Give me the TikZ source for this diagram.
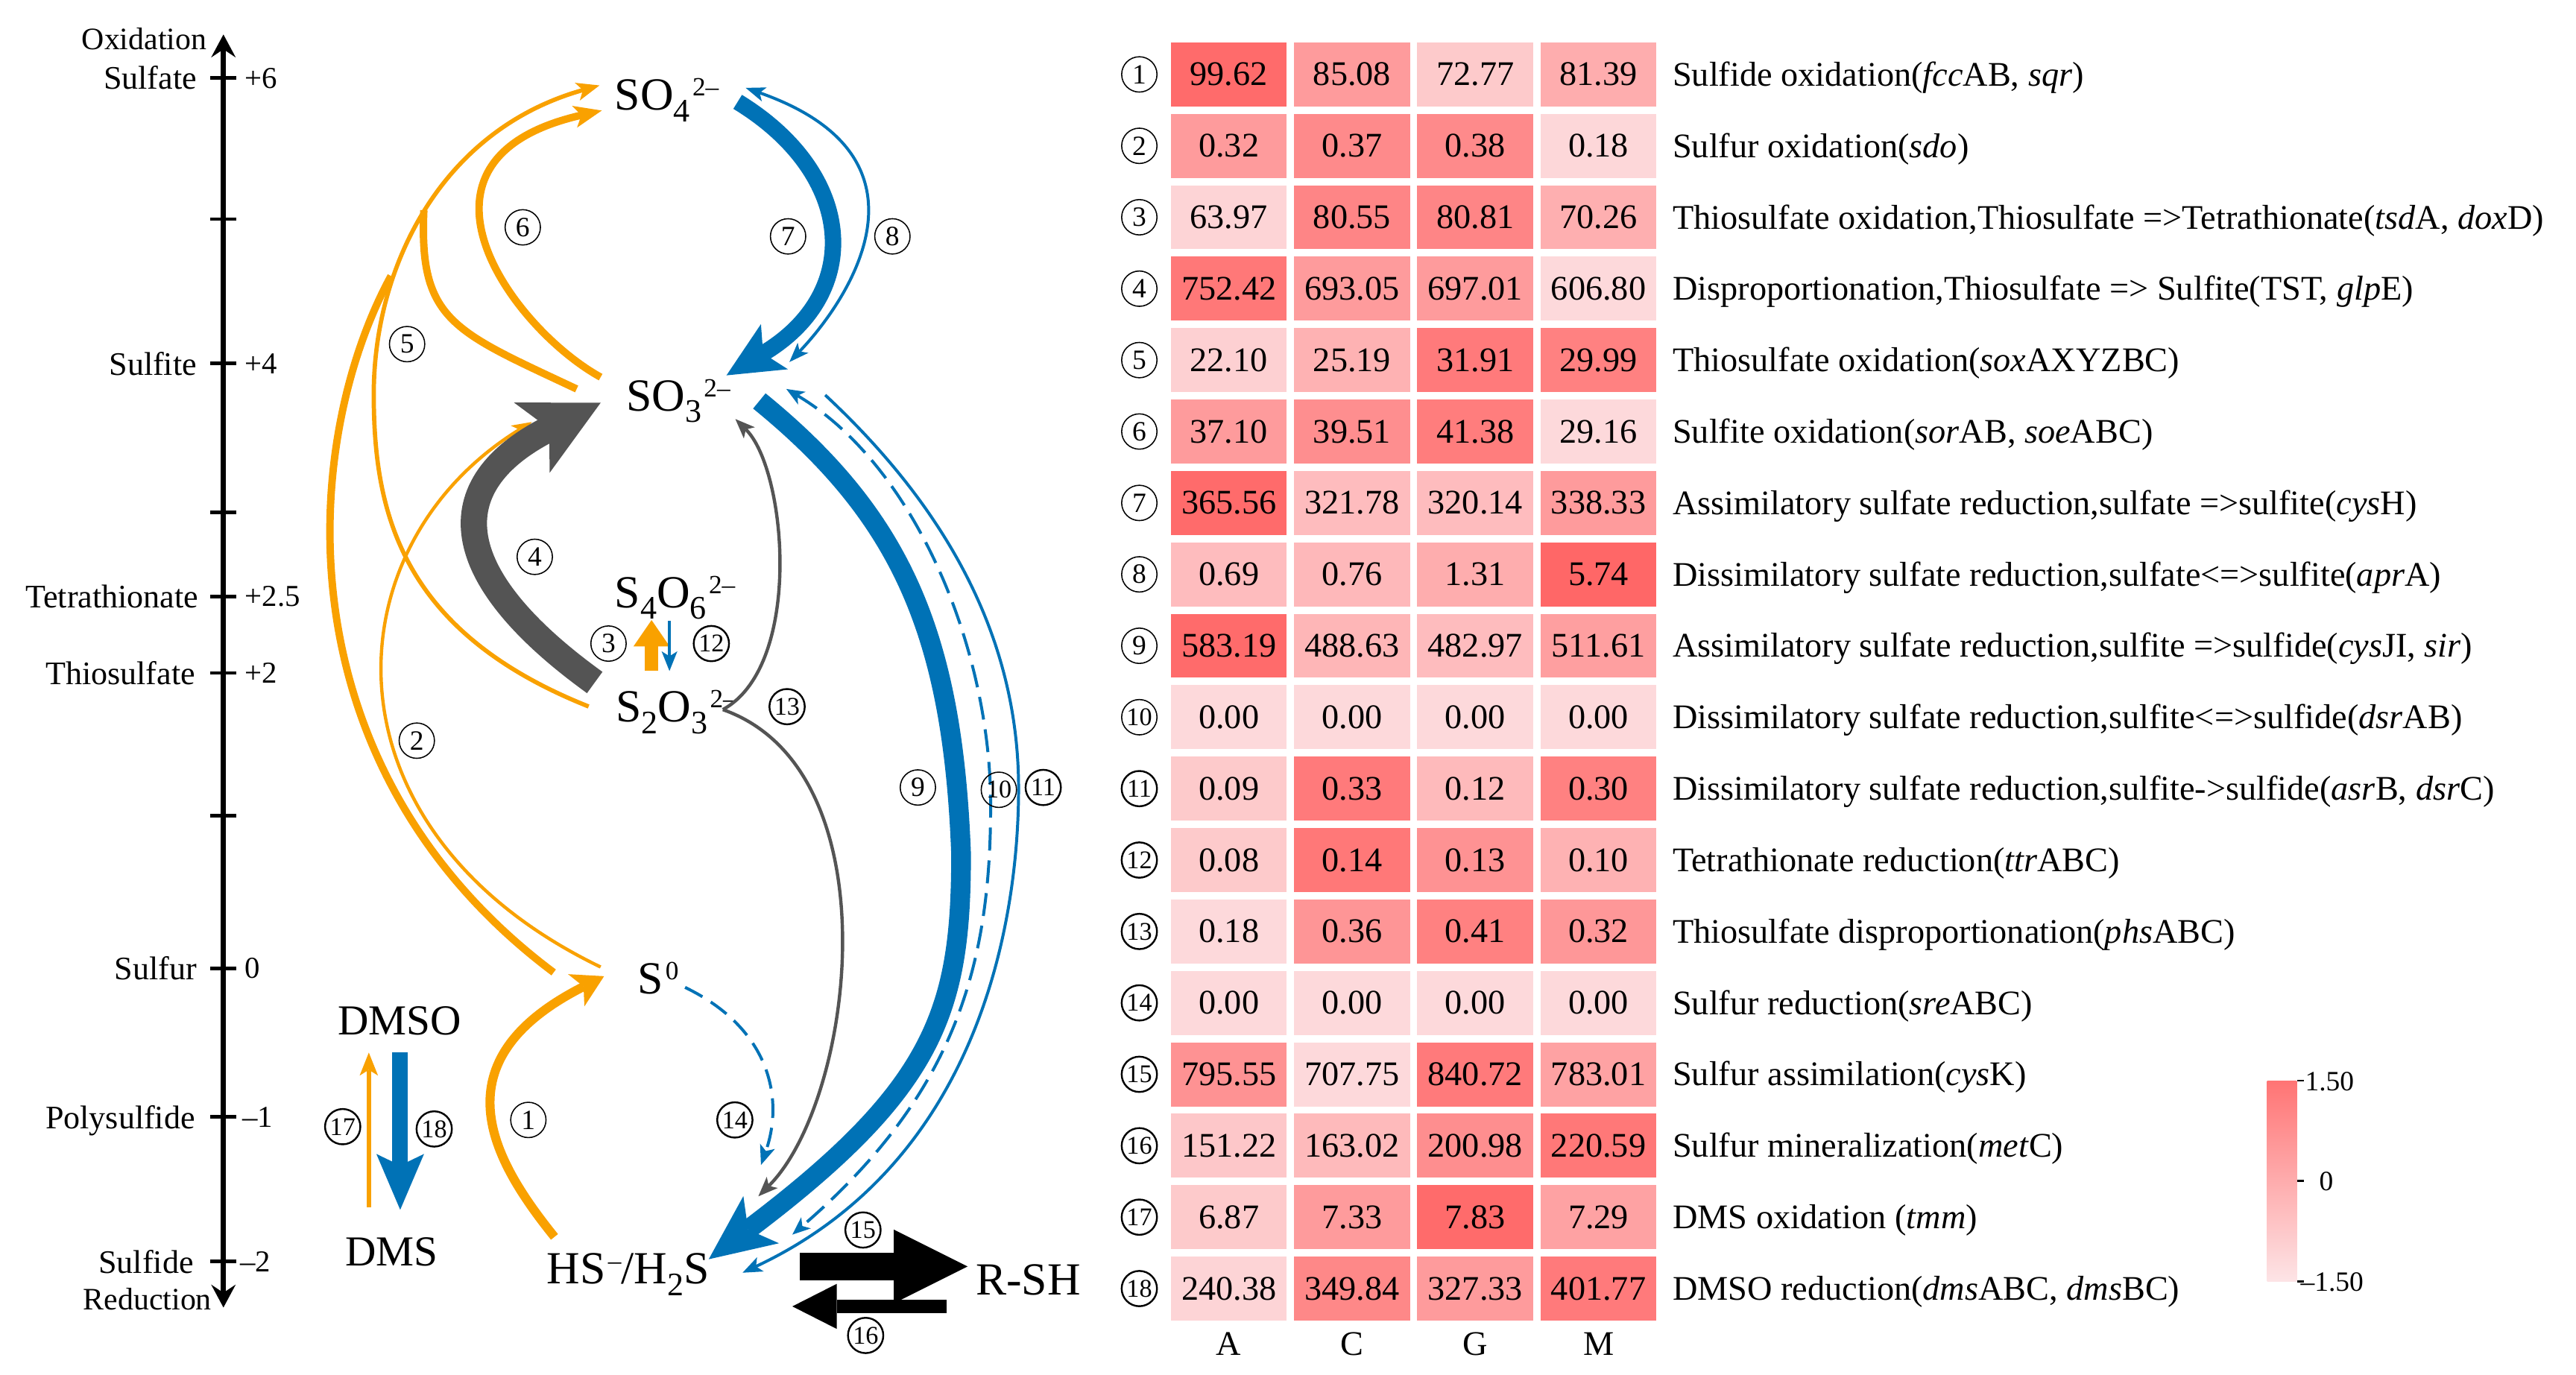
\documentclass[tikz,border=0pt]{standalone}
\usepackage{fontspec}
\setmainfont{Liberation Serif}
\usetikzlibrary{arrows.meta}
\definecolor{oran}{RGB}{249,161,0}
\definecolor{sblue}{RGB}{0,114,182}
\definecolor{dgray}{RGB}{84,84,84}
\definecolor{hmhi}{RGB}{255,96,96}
\definecolor{hmlo}{RGB}{253,228,230}
\newcommand\fs[1]{\fontsize{#1}{#1}\selectfont}
\newcommand\sbs[1]{\raisebox{-7pt}{\fs{20}#1}}
\newcommand\sps[1]{\hspace{1.5pt}\raisebox{8.5pt}{\fs{16}#1}}
\tikzset{
  spec/.style={font=\fs{28}, inner sep=0pt, anchor=base west},
  axl/.style={font=\fs{20}, anchor=base east, inner sep=0pt},
  axv/.style={font=\fs{18.5}, anchor=base west, inner sep=0pt},
  cn/.style={circle, draw, line width=0.7pt, minimum size=21.5pt, inner sep=0pt, font=\fs{17}},
  cnb/.style={cn, line width=1.1pt, font=\fs{15.5}},
  cell/.style={minimum width=70.6pt, minimum height=39pt, inner sep=0pt, font=\fs{21}},
  rlab/.style={anchor=base west, inner sep=0pt, font=\fs{21}},
  sth/.style={-{Stealth[length=#1, width=0.8*#1, inset=0.25*#1, line width=0pt]}},
}
\begin{document}
\begin{tikzpicture}[x=1pt, y=-1pt, line cap=butt]
\useasboundingbox (0,0) rectangle (1568,837);
\fill[white] (0,0) rectangle (1568,837);

% ---------------- axis ----------------
\coordinate (axtop) at (136,21);
\coordinate (axbot) at (136,796);
\draw[line width=3pt, {Stealth[length=14pt,width=15pt,inset=5pt,line width=0pt]}-{Stealth[length=14pt,width=15pt,inset=5pt,line width=0pt]}] (axbot) -- (axtop);
\foreach \y in {47.3,133.4,221.3,312,363,409.7,496.4,589.4,680,768}
  \draw[line width=2.2pt] (128,\y) -- (144,\y);
\node[axl, font=\fs{19}] (oxi) at (126,30) {Oxidation};
\node[axl, font=\fs{19}] (red) at (129,797.5) {Reduction};
\node[axl] (lsulfate) at (120,54.3) {Sulfate};
\node[axl] (lsulfite) at (120,228.3) {Sulfite};
\node[axl] (ltetra) at (121,370) {Tetrathionate};
\node[axl] (lthio) at (119,416.7) {Thiosulfate};
\node[axl] (lsulfur) at (120,596.4) {Sulfur};
\node[axl] (lpoly) at (119,687) {Polysulfide};
\node[axl] (lsulfide) at (118,775) {Sulfide};
\node[axv] (v6) at (149,53.6) {+6};
\node[axv] (v4) at (149,227.6) {+4};
\node[axv] (v25) at (149,369.3) {+2.5};
\node[axv] (v2) at (149,416) {+2};
\node[axv] (v0) at (149,595.7) {0};
\node[axv] (vm1) at (147.5,686.3) {–1};
\node[axv] (vm2) at (146,774.3) {–2};

% ---------------- species ----------------
\node[spec] (so4) at (374,67) {SO\sbs{4}\sps{2–}};
\node[spec] (so3) at (381,250) {SO\sbs{3}\sps{2–}};
\node[spec] (s4o6) at (374,370) {S\sbs{4}O\sbs{6}\sps{2–}};
\node[spec] (s2o3) at (374.7,439.5) {S\sbs{2}O\sbs{3}\sps{2–}};
\node[spec] (s0) at (387.8,605) {S\sps{0}};
\node[spec] (hs) at (332.7,781.6) {HS\sps{–}/H\sbs{2}S};
\node[spec] (rsh) at (593.7,788.5) {R-SH};
\node[spec, font=\fs{26}] (dmso) at (205.4,629.8) {DMSO};
\node[spec, font=\fs{26}] (dms) at (210.1,770.7) {DMS};

% ---------------- endpoints ----------------
\coordinate (p6s) at (365.6,229.6);  \coordinate (p6e) at (366.3,67.3);
\coordinate (p5s) at (358.3,430.1);  \coordinate (p5m) at (227.5,240); \coordinate (p5e) at (364.9,52);
\coordinate (pAs) at (337,592);      \coordinate (pAe) at (238,168);
\coordinate (pBs) at (351,236.8);    \coordinate (pBe) at (258,128);
\coordinate (p2s) at (365.6,588.7);  \coordinate (p2e) at (323.7,256.9);
\coordinate (p1s) at (337.5,753);    \coordinate (p1e) at (367.7,594.3);
\coordinate (p4s) at (362,415.5);    \coordinate (p4e) at (365.6,245.2);
\coordinate (p7s) at (449,62);       \coordinate (p7e) at (442.2,228.5);
\coordinate (p8s) at (453.9,53.5);   \coordinate (p8e) at (480.5,220.4);
\coordinate (p9s) at (462.2,244.1);  \coordinate (p9m) at (585,520); \coordinate (p9e) at (431.4,766.6);
\coordinate (p10s) at (478.6,236.8); \coordinate (p10m) at (603,490); \coordinate (p10e) at (482.3,751.6);
\coordinate (p11s) at (502.3,240.5); \coordinate (p11m) at (620,480); \coordinate (p11e) at (452,774.8);
\coordinate (p13s) at (440,432);     \coordinate (p13u) at (447.6,255.1); \coordinate (p13d) at (461.6,728.3);
\coordinate (p14s) at (417,601.1);   \coordinate (p14e) at (463.2,709.2);
\coordinate (p3s) at (396.6,408.2);  \coordinate (p3e) at (396.6,377.5);
\coordinate (p12s) at (407.5,378);   \coordinate (p12e) at (407.5,408.5);
\coordinate (p17s) at (224.5,735);   \coordinate (p17e) at (224.5,640.8);
\coordinate (p18s) at (243.6,640.8); \coordinate (p18e) at (243.6,736.5);
\coordinate (p15s) at (487,771);     \coordinate (p15e) at (589,771);
\coordinate (p16s) at (576,795.3);   \coordinate (p16e) at (482.3,795.3);

% ---------------- orange oxidation ----------------
\draw[oran, line width=4.5pt] (pAs) .. controls (168.5,465.6) and (183.6,267.7) .. (pAe);
\draw[oran, line width=4.5pt] (pBs) .. controls (275.9,201.4) and (255,195.4) .. (pBe);
\draw[oran, line width=2.6pt, sth=14pt] (p5s) .. controls (244,384.6) and (227.5,311.9) .. (p5m)
   .. controls (227.5,162.2) and (268.5,79.1) .. (p5e);
\draw[oran, line width=4.5pt, sth=17pt] (p6s) .. controls (312,200) and (236,97) .. (p6e);
\draw[oran, line width=2pt, sth=12pt] (p2s) .. controls (192,505) and (200.6,332.7) .. (p2e);
\draw[oran, line width=5.5pt, -{Stealth[length=19pt,width=22pt,inset=5pt,line width=0pt]}] (p1s) .. controls (299,705.2) and (265.9,645.8) .. (p1e);
\draw[oran, line width=8pt, -{Triangle[length=16pt,width=22pt,line width=0pt]}] (p3s) -- (p3e);
\draw[oran, line width=2.5pt, sth=14pt] (p17s) -- (p17e);

% ---------------- gray ----------------
\draw[dgray, line width=16pt, -{Stealth[length=47pt,width=48pt,inset=12pt,line width=0pt]}] (p4s) .. controls (272.4,350.8) and (266.4,295.5) .. (p4e);
\draw[dgray, line width=2pt, sth=12pt] (p13s) .. controls (489.1,405.1) and (478.9,286) .. (p13u);
\draw[dgray, line width=2pt, sth=12pt] (p13s) .. controls (545,469) and (520,670) .. (p13d);

% ---------------- blue reduction ----------------
\draw[sblue, line width=10pt, -{Stealth[length=34pt,width=32pt,inset=8pt,line width=0pt]}] (p7s) .. controls (521,106) and (525.9,178.5) .. (p7e);
\draw[sblue, line width=1.8pt, {Stealth[length=12pt,width=9pt,inset=3pt,line width=0pt]}-{Stealth[length=12pt,width=9pt,inset=3pt,line width=0pt]}] (p8s) .. controls (577.1,96.8) and (514,185.4) .. (p8e);
\draw[sblue, line width=12pt, -{Stealth[length=40pt,width=36pt,inset=10pt,line width=0pt]}] (p9s) .. controls (548,314) and (580,385) .. (p9m)
   .. controls (585,615.5) and (569.6,662.3) .. (p9e);
\draw[sblue, line width=1.8pt, dash pattern=on 14pt off 6pt, {Stealth[length=11pt,width=9pt,inset=3pt,line width=0pt]}-{Stealth[length=11pt,width=9pt,inset=3pt,line width=0pt]}] (p10s) .. controls (556.5,283) and (603,394.6) .. (p10m)
   .. controls (603,587) and (581.8,665.8) .. (p10e);
\draw[sblue, line width=1.8pt, sth=12pt] (p11s) .. controls (573.8,307.1) and (620,386) .. (p11m)
   .. controls (620,533.9) and (609.3,701) .. (p11e);
\draw[sblue, line width=1.8pt, dash pattern=on 12pt off 6pt, sth=12pt] (p14s) .. controls (469.7,626.6) and (477,669.9) .. (p14e);
\draw[sblue, line width=1.8pt, sth=12pt] (p12s) -- (p12e);
\draw[sblue, line width=9.5pt, -{Stealth[length=34pt,width=29pt,inset=7pt,line width=0pt]}] (p18s) -- (p18e);

% ---------------- black ----------------
\draw[black, line width=8pt, -{Triangle[length=27pt,width=27.4pt,line width=0pt]}] (p16s) -- (p16e);
\draw[black, line width=16.5pt, -{Triangle[length=45pt,width=45pt,line width=0pt]}] (p15s) -- (p15e);

% ---------------- diagram numbers ----------------
\node[cn] (d1) at (321.6,681.8) {1};
\node[cn] (d2) at (253.7,450.9) {2};
\node[cn] (d3) at (370.4,391.8) {3};
\node[cn] (d4) at (325.5,339) {4};
\node[cn] (d5) at (247.8,209.5) {5};
\node[cn] (d6) at (318.2,138.4) {6};
\node[cn] (d7) at (479.7,143.9) {7};
\node[cn] (d8) at (543.2,143.9) {8};
\node[cn] (d9) at (558.7,479.4) {9};
\node[cn, font=\fs{15.5}] (d10) at (608,480.8) {10};
\node[cnb] (d11) at (635,479.4) {11};
\node[cnb] (d12) at (433,391.8) {12};
\node[cnb] (d13) at (479.1,430.2) {13};
\node[cnb] (d14) at (447.3,681.8) {14};
\node[cnb] (d15) at (525.3,748.8) {15};
\node[cnb] (d16) at (526.9,813) {16};
\node[cnb] (d17) at (208.6,685.9) {17};
\node[cnb] (d18) at (264.3,687.3) {18};

% ---------------- heatmap ----------------
\foreach \r/\va/\la/\vc/\lc/\vg/\lg/\vm/\lm in {
1/99.62/92/85.08/55/72.77/20/81.39/42,
2/0.32/55/0.37/68/0.38/68/0.18/10,
3/63.97/12/80.55/72/80.81/72/70.26/40,
4/752.42/82/693.05/55/697.01/55/606.80/8,
5/22.10/15/25.19/38/31.91/80/29.99/75,
6/37.10/55/39.51/65/41.38/78/29.16/8,
7/365.56/92/321.78/30/320.14/30/338.33/55,
8/0.69/30/0.76/33/1.31/42/5.74/95,
9/583.19/92/488.63/35/482.97/30/511.61/52,
10/0.00/8/0.00/8/0.00/8/0.00/8,
11/0.09/20/0.33/80/0.12/32/0.30/75,
12/0.08/20/0.14/82/0.13/62/0.10/38,
13/0.18/8/0.36/60/0.41/75/0.32/58,
14/0.00/8/0.00/8/0.00/8/0.00/8,
15/795.55/62/707.75/8/840.72/80/783.01/50,
16/151.22/22/163.02/32/200.98/65/220.59/82,
17/6.87/20/7.33/55/7.83/92/7.29/50,
18/240.38/12/349.84/70/327.33/55/401.77/80}
{
  \pgfmathsetmacro\yy{45.3+(\r-1)*43.48}
  \node[cell, fill=hmhi!\la!hmlo] (cA\r) at (748,\yy) {\va};
  \node[cell, fill=hmhi!\lc!hmlo] (cC\r) at (823,\yy) {\vc};
  \node[cell, fill=hmhi!\lg!hmlo] (cG\r) at (898,\yy) {\vg};
  \node[cell, fill=hmhi!\lm!hmlo] (cM\r) at (973,\yy) {\vm};
}
\foreach \r in {1,...,9}{
  \pgfmathsetmacro\yy{45.3+(\r-1)*43.48}
  \node[cn] (h\r) at (693.5,\yy) {\r};
}
\node[cn, font=\fs{15.5}] (h10) at (693.5,436.62) {10};
\foreach \r in {11,...,18}{
  \pgfmathsetmacro\yy{45.3+(\r-1)*43.48}
  \node[cnb] (h\r) at (693.5,\yy) {\r};
}
\node[rlab] (t1) at (1018,52.3) {Sulfide oxidation(\textit{fcc}AB, \textit{sqr})};
\node[rlab] (t2) at (1018,95.8) {Sulfur oxidation(\textit{sdo})};
\node[rlab] (t3) at (1018,139.3) {Thiosulfate oxidation,Thiosulfate =>Tetrathionate(\textit{tsd}A, \textit{dox}D)};
\node[rlab] (t4) at (1018,182.7) {Disproportionation,Thiosulfate => Sulfite(TST, \textit{glp}E)};
\node[rlab] (t5) at (1018,226.2) {Thiosulfate oxidation(\textit{sox}AXYZBC)};
\node[rlab] (t6) at (1018,269.7) {Sulfite oxidation(\textit{sor}AB, \textit{soe}ABC)};
\node[rlab] (t7) at (1018,313.2) {Assimilatory sulfate reduction,sulfate =>sulfite(\textit{cys}H)};
\node[rlab] (t8) at (1018,356.7) {Dissimilatory sulfate reduction,sulfate<=>sulfite(\textit{apr}A)};
\node[rlab] (t9) at (1018,400.1) {Assimilatory sulfate reduction,sulfite =>sulfide(\textit{cys}JI, \textit{sir})};
\node[rlab] (t10) at (1018,443.6) {Dissimilatory sulfate reduction,sulfite<=>sulfide(\textit{dsr}AB)};
\node[rlab] (t11) at (1018,487.1) {Dissimilatory sulfate reduction,sulfite->sulfide(\textit{asr}B, \textit{dsr}C)};
\node[rlab] (t12) at (1018,530.6) {Tetrathionate reduction(\textit{ttr}ABC)};
\node[rlab] (t13) at (1018,574.1) {Thiosulfate disproportionation(\textit{phs}ABC)};
\node[rlab] (t14) at (1018,617.5) {Sulfur reduction(\textit{sre}ABC)};
\node[rlab] (t15) at (1018,661) {Sulfur assimilation(\textit{cys}K)};
\node[rlab] (t16) at (1018,704.5) {Sulfur mineralization(\textit{met}C)};
\node[rlab] (t17) at (1018,748) {DMS oxidation (\textit{tmm})};
\node[rlab] (t18) at (1018,791.5) {DMSO reduction(\textit{dms}ABC, \textit{dms}BC)};
\node[font=\fs{21}, anchor=base, inner sep=0pt] (colA) at (748,825) {A};
\node[font=\fs{21}, anchor=base, inner sep=0pt] (colC) at (823,825) {C};
\node[font=\fs{21}, anchor=base, inner sep=0pt] (colG) at (898,825) {G};
\node[font=\fs{21}, anchor=base, inner sep=0pt] (colM) at (973,825) {M};

% ---------------- colour bar ----------------
\node[rectangle, minimum width=18pt, minimum height=122pt, inner sep=0pt,
      top color=hmhi!105!red!90, bottom color=hmlo, draw=none] (cbar) at (1389,719) {};
\draw[line width=1.2pt] (cbar.north east) -- ++(4,0);
\draw[line width=1.2pt] (cbar.east) -- ++(4,0);
\draw[line width=1.2pt] (cbar.south east) -- ++(4,0);
\node[font=\fs{17}, anchor=base, inner sep=0pt] (cb1) at (1418,664) {1.50};
\node[font=\fs{17}, anchor=base, inner sep=0pt] (cb0) at (1416,725) {0};
\node[font=\fs{17}, anchor=base, inner sep=0pt] (cb2) at (1419.5,786) {–1.50};
\end{tikzpicture}
\end{document}
